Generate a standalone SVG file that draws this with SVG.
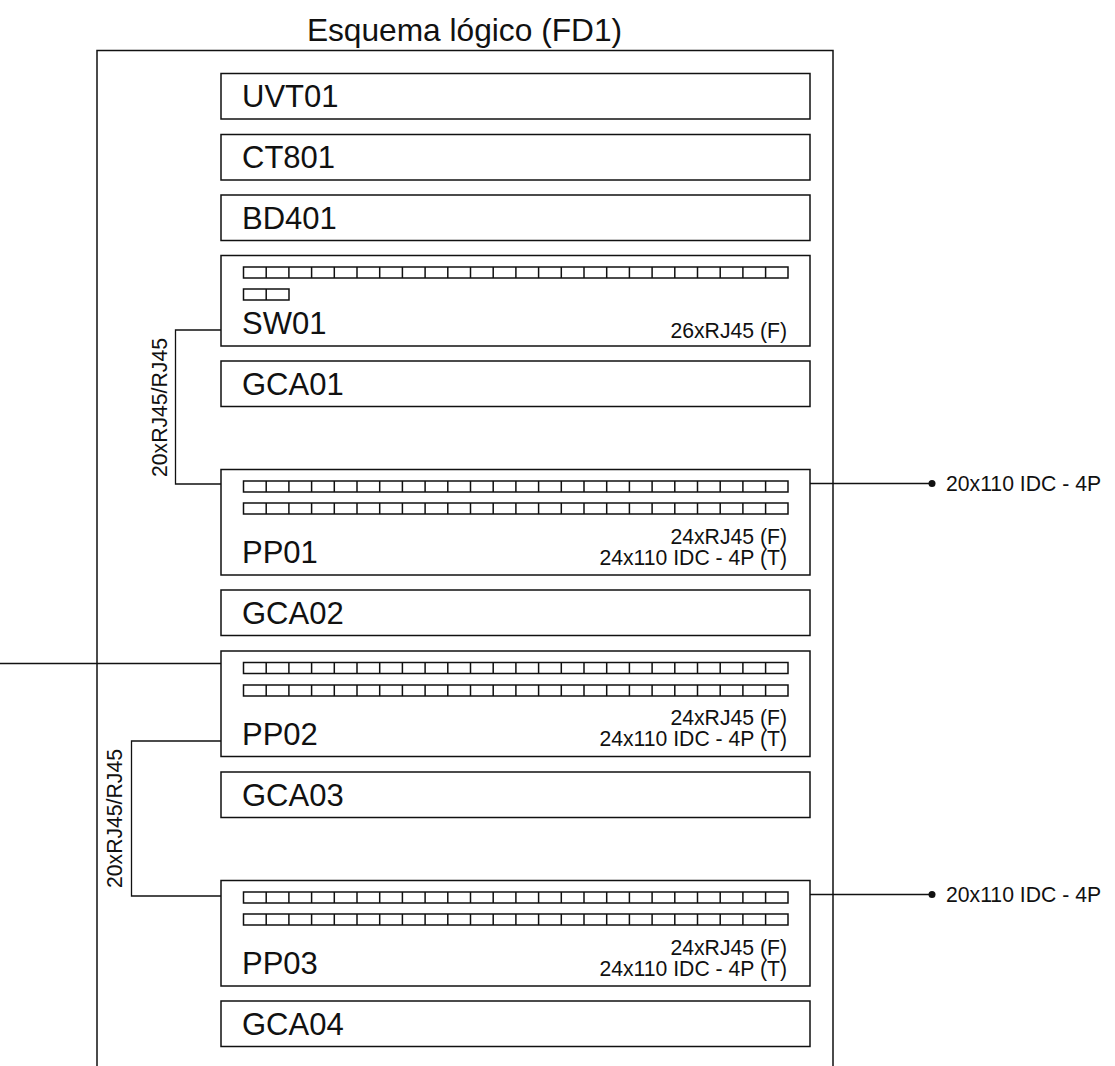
<svg xmlns="http://www.w3.org/2000/svg" width="1115" height="1066" viewBox="0 0 1115 1066">
<style>
.b{fill:#fff;stroke:#111;stroke-width:1.5}
.l{fill:none;stroke:#111;stroke-width:1.3}
.p{fill:none;stroke:#111;stroke-width:1.5}
text{font-family:"Liberation Sans",Arial,sans-serif;fill:#111}
.n{font-size:31px}
.s{font-size:21.2px}
.e{text-anchor:end}
</style>
<defs>
<g id="row">
<path class="p" d="M243.500 0H788V11H243.500ZM266.200 0V11M288.900 0V11M311.600 0V11M334.300 0V11M357 0V11M379.700 0V11M402.400 0V11M425.100 0V11M447.800 0V11M470.500 0V11M493.200 0V11M515.900 0V11M538.600 0V11M561.300 0V11M584 0V11M606.700 0V11M629.400 0V11M652.100 0V11M674.800 0V11M697.500 0V11M720.200 0V11M742.900 0V11M765.600 0V11"/>
</g>
</defs>
<rect width="1115" height="1066" fill="#fff"/>
<text id="title" x="464.500" y="41" font-size="31.700" text-anchor="middle">Esquema lógico (FD1)</text>
<path id="frame" class="p" d="M97 1066V50.500H833V1066"/>
<g id="connectors">
<path class="l" d="M221 330H175.500V484H221"/>
<path class="l" d="M810 483.500H932"/>
<circle cx="932" cy="483.500" r="3.500" fill="#111"/>
<path class="l" d="M0 663.500H221"/>
<path class="l" d="M221 741H131.500V896H221"/>
<path class="l" d="M810 894.500H932"/>
<circle cx="932" cy="894.500" r="3.500" fill="#111"/>
</g>
<text class="s" transform="translate(167 477) rotate(-90)">20xRJ45/RJ45</text>
<text class="s" transform="translate(122 888) rotate(-90)">20xRJ45/RJ45</text>
<text class="s" x="946" y="491">20x110 IDC - 4P</text>
<text class="s" x="946" y="902">20x110 IDC - 4P</text>
<g id="UVT01"><rect class="b" x="221" y="73.500" width="589" height="45.500"/><text class="n" x="242" y="107">UVT01</text></g>
<g id="CT801"><rect class="b" x="221" y="134.500" width="589" height="45.500"/><text class="n" x="242" y="168">CT801</text></g>
<g id="BD401"><rect class="b" x="221" y="195" width="589" height="45.500"/><text class="n" x="242" y="229">BD401</text></g>
<g id="SW01"><rect class="b" x="221" y="255.500" width="589" height="90.500"/><use href="#row" y="267"/><path class="p" d="M243.500 289H289V300H243.500ZM266.200 289V300"/><text class="n" x="242" y="334">SW01</text><text class="s e" x="787" y="338">26xRJ45 (F)</text></g>
<g id="GCA01"><rect class="b" x="221" y="361" width="589" height="45.500"/><text class="n" x="242" y="395">GCA01</text></g>
<g id="PP01"><rect class="b" x="221" y="469.500" width="589" height="105.500"/><use href="#row" y="481"/><use href="#row" y="503"/><text class="n" x="242" y="563">PP01</text><text class="s e" x="787" y="544">24xRJ45 (F)</text><text class="s e" x="787" y="565">24x110 IDC - 4P (T)</text></g>
<g id="GCA02"><rect class="b" x="221" y="590" width="589" height="45.500"/><text class="n" x="242" y="624">GCA02</text></g>
<g id="PP02"><rect class="b" x="221" y="651" width="589" height="105.500"/><use href="#row" y="662.500"/><use href="#row" y="685"/><text class="n" x="242" y="745">PP02</text><text class="s e" x="787" y="725">24xRJ45 (F)</text><text class="s e" x="787" y="746">24x110 IDC - 4P (T)</text></g>
<g id="GCA03"><rect class="b" x="221" y="772" width="589" height="45.500"/><text class="n" x="242" y="806">GCA03</text></g>
<g id="PP03"><rect class="b" x="221" y="880.500" width="589" height="105.500"/><use href="#row" y="892"/><use href="#row" y="914"/><text class="n" x="242" y="974">PP03</text><text class="s e" x="787" y="955">24xRJ45 (F)</text><text class="s e" x="787" y="976">24x110 IDC - 4P (T)</text></g>
<g id="GCA04"><rect class="b" x="221" y="1001" width="589" height="45.500"/><text class="n" x="242" y="1035">GCA04</text></g>
</svg>
